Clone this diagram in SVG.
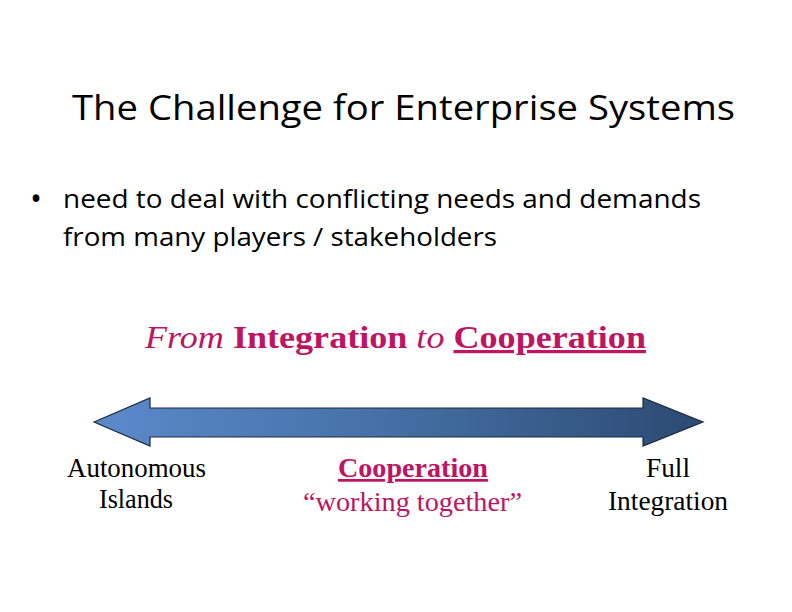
<svg xmlns="http://www.w3.org/2000/svg" width="792" height="612" viewBox="0 0 792 612">
<style>
.sans{font-family:"Open Sans","Liberation Sans",sans-serif;fill:#000}
.serif{font-family:"Liberation Serif","Times New Roman",serif}
.lbl{font-size:27px;text-anchor:start}
.mag{fill:#BE1462}
.blk{fill:#000}
</style>
<defs>
<linearGradient id="g" x1="0" y1="0" x2="1" y2="0">
<stop offset="0" stop-color="#5B8ACB"/>
<stop offset="0.45" stop-color="#4672A8"/>
<stop offset="1" stop-color="#2C4A72"/>
</linearGradient>
</defs>
<rect width="792" height="612" fill="#fff"/>
<g id="title"><text class="sans" x="72" y="120" font-size="34" textLength="663" lengthAdjust="spacingAndGlyphs">The Challenge for Enterprise Systems</text></g>
<g id="bullet">
<text class="sans" x="30" y="210" font-size="32">•</text>
<text class="sans" x="63" y="208" font-size="25" textLength="638" lengthAdjust="spacingAndGlyphs">need to deal with conflicting needs and demands</text>
<text class="sans" x="63" y="246" font-size="25" textLength="434" lengthAdjust="spacingAndGlyphs">from many players / stakeholders</text>
</g>
<g id="heading">
<text class="serif mag" x="145" y="348" font-size="32" textLength="501" lengthAdjust="spacingAndGlyphs"><tspan font-style="italic">From</tspan> <tspan font-weight="bold">Integration</tspan> <tspan font-style="italic">to</tspan> <tspan font-weight="bold" text-decoration="underline">Cooperation</tspan></text>
</g>
<g id="arrow">
<path d="M94,422 L150,398 L150,408 L643,408 L643,398 L703,422 L643,446 L643,437 L150,437 L150,446 Z" fill="url(#g)" stroke="#1a2a40" stroke-width="1.2"/>
</g>
<g id="left">
<text class="serif blk lbl" x="67" y="477" textLength="139" lengthAdjust="spacingAndGlyphs">Autonomous</text>
<text class="serif blk lbl" x="99" y="508" textLength="74" lengthAdjust="spacingAndGlyphs">Islands</text>
</g>
<g id="center">
<text class="serif mag lbl" x="338" y="477" font-weight="bold" text-decoration="underline" textLength="150" lengthAdjust="spacingAndGlyphs">Cooperation</text>
<text class="serif mag lbl" x="303" y="511" textLength="219" lengthAdjust="spacingAndGlyphs">“working together”</text>
</g>
<g id="right">
<text class="serif blk lbl" x="646" y="477" textLength="44" lengthAdjust="spacingAndGlyphs">Full</text>
<text class="serif blk lbl" x="608" y="510" textLength="120" lengthAdjust="spacingAndGlyphs">Integration</text>
</g>
</svg>
